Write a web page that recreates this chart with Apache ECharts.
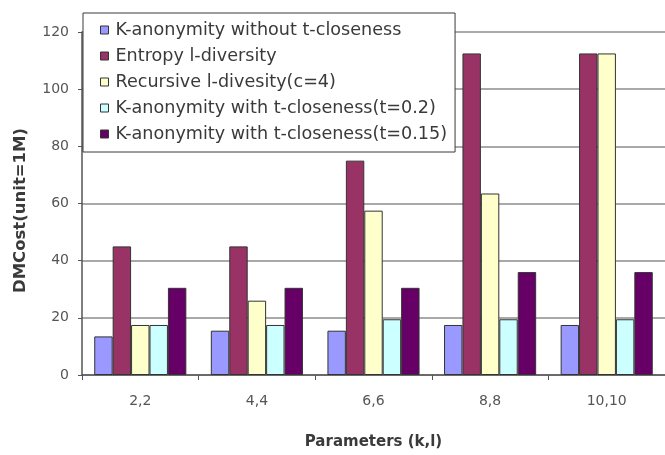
<!DOCTYPE html>
<html>
<head>
<meta charset="utf-8">
<title>DMCost by parameters</title>
<script src="https://cdn.jsdelivr.net/npm/echarts@6/dist/echarts.min.js"></script>
<style>
  html, body { margin: 0; padding: 0; background: #ffffff; }
  #chart { width: 665px; height: 455px; }
</style>
</head>
<body>
<div id="chart"></div>
<script>
// Parameter pairs (k, l)
const categories = ['2,2', '4,4', '6,6', '8,8', '10,10'];

// DMCost per method, unit = 1M
const kAnonNoClose   = [13.5, 15.5, 15.5, 17.5, 17.5];
const entropyDiv     = [45, 45, 75, 112.5, 112.5];
const recursiveDiv   = [17.5, 26, 57.5, 63.5, 112.5];
const kAnonClose02   = [17.5, 17.5, 19.5, 19.5, 19.5];
const kAnonClose015  = [30.5, 30.5, 30.5, 36, 36];

const seriesNames = [
  'K-anonymity without t-closeness',
  'Entropy l-diversity',
  'Recursive l-divesity(c=4)',
  'K-anonymity with t-closeness(t=0.2)',
  'K-anonymity with t-closeness(t=0.15)'
];
const seriesData = [kAnonNoClose, entropyDiv, recursiveDiv, kAnonClose02, kAnonClose015];
const seriesColors = ['#9999FF', '#993366', '#FFFFCC', '#CCFFFF', '#660066'];

const yTicks = { min: 0, max: 120, step: 20 };

const font = 'DejaVu Sans';

const chart = echarts.init(document.getElementById('chart'), null, { renderer: 'canvas' });

chart.setOption({
  animation: false,
  backgroundColor: '#ffffff',
  grid: { left: 82, right: -2, top: 32, bottom: 80, containLabel: false },
  legend: {
    orient: 'vertical',
    left: 83,
    top: 13,
    padding: [8, 8, 9, 17],
    itemGap: 8,
    itemWidth: 8,
    itemHeight: 8,
    icon: 'rect',
    selectedMode: false,
    backgroundColor: '#ffffff',
    borderColor: '#3a3a3a',
    borderWidth: 1,
    itemStyle: { borderColor: '#333', borderWidth: 1 },
    textStyle: { fontFamily: font, fontSize: 17.6, color: '#3a3a3a', lineHeight: 18, padding: [0, 0, 0, 2] },
    data: seriesNames
  },
  xAxis: {
    type: 'category',
    data: categories,
    name: 'Parameters (k,l)',
    nameLocation: 'middle',
    nameGap: 60,
    nameTextStyle: { fontFamily: font, fontSize: 15, fontWeight: 'bold', color: '#3a3a3a' },
    axisLine: { show: true, lineStyle: { color: '#555', width: 1.5 } },
    axisTick: { show: true, length: 5, interval: 0, lineStyle: { color: '#555' } },
    axisLabel: { fontFamily: font, fontSize: 14, color: '#555', margin: 19, interval: 0 }
  },
  yAxis: {
    type: 'value',
    min: yTicks.min,
    max: yTicks.max,
    interval: yTicks.step,
    name: 'DMCost(unit=1M)',
    nameLocation: 'middle',
    nameGap: 53,
    nameRotate: 90,
    nameTextStyle: { fontFamily: font, fontSize: 16.5, fontWeight: 'bold', color: '#3a3a3a', padding: [0, 14, 0, 0] },
    axisLine: { show: true, lineStyle: { color: '#555', width: 1.5 } },
    axisTick: { show: true, length: 4, lineStyle: { color: '#555' } },
    axisLabel: { fontFamily: font, fontSize: 14, color: '#555', margin: 13 },
    splitLine: { show: true, lineStyle: { color: '#8c8c8c', width: 1.5 } }
  },
  series: seriesNames.map((name, i) => ({
    name: name,
    type: 'bar',
    data: seriesData[i],
    barGap: '0%',
    barCategoryGap: '21%',
    itemStyle: { color: seriesColors[i], borderColor: '#333', borderWidth: 1 }
  }))
});
</script>
</body>
</html>
